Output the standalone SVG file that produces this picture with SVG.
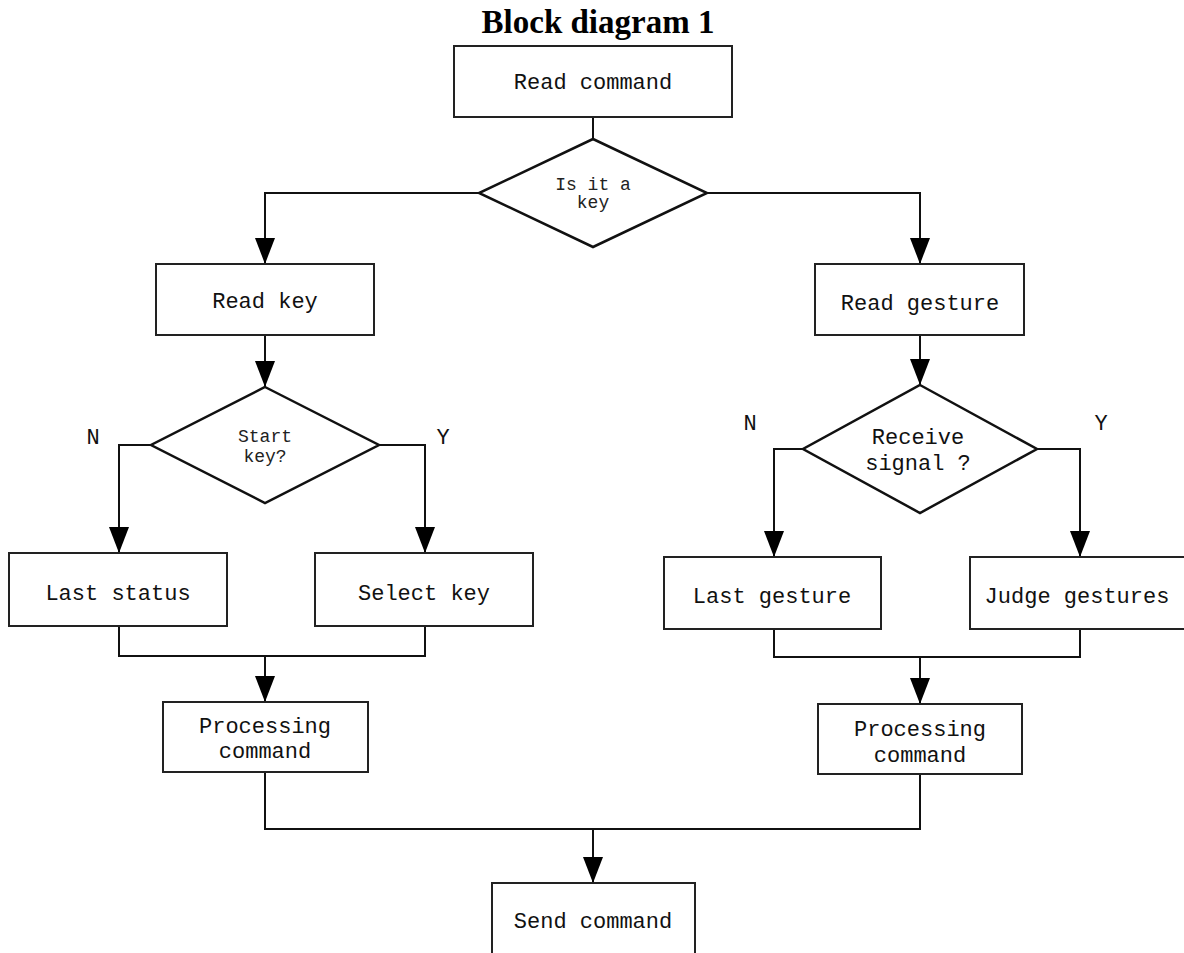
<svg xmlns="http://www.w3.org/2000/svg" width="1184" height="953" viewBox="0 0 1184 953">
<style>
.box{fill:#fff;stroke:#222;stroke-width:2}
.dia{fill:#fff;stroke:#111;stroke-width:2.5}
.t{font-family:"Liberation Mono","DejaVu Sans Mono",monospace;font-size:22px;fill:#111;text-anchor:middle}
.ts{font-family:"Liberation Mono","DejaVu Sans Mono",monospace;font-size:18px;fill:#222;text-anchor:middle}
.lbl{font-family:"Liberation Mono","DejaVu Sans Mono",monospace;font-size:22px;fill:#111;text-anchor:middle}
.c{fill:none;stroke:#111;stroke-width:2}
.title{font-family:"Liberation Serif","DejaVu Serif",serif;font-weight:bold;font-size:33px;fill:#000;text-anchor:middle}
</style>
<defs>
<marker id="arr" viewBox="0 0 26 20" refX="26" refY="10" markerWidth="26" markerHeight="20" markerUnits="userSpaceOnUse" orient="auto">
<path d="M0,0 L26,10 L0,20 z" fill="#000"/>
</marker>
</defs>
<rect width="1184" height="953" fill="#fff"/>
<text class="title" x="598" y="33">Block diagram 1</text>

<g id="connectors">
<path class="c" d="M593,117 V139"/>
<path class="c" d="M479,193 H265 V264" marker-end="url(#arr)"/>
<path class="c" d="M707,193 H920 V264" marker-end="url(#arr)"/>
<path class="c" d="M265,335 V387" marker-end="url(#arr)"/>
<path class="c" d="M920,335 V385" marker-end="url(#arr)"/>
<path class="c" d="M151,445 H119 V553" marker-end="url(#arr)"/>
<path class="c" d="M379,445 H425 V553" marker-end="url(#arr)"/>
<path class="c" d="M803,449 H774 V557" marker-end="url(#arr)"/>
<path class="c" d="M1037,449 H1080 V557" marker-end="url(#arr)"/>
<path class="c" d="M119,626 V656 H425 V626"/>
<path class="c" d="M265,656 V702" marker-end="url(#arr)"/>
<path class="c" d="M774,629 V657 H1080 V629"/>
<path class="c" d="M920,657 V704" marker-end="url(#arr)"/>
<path class="c" d="M265,772 V829 H920 V774"/>
<path class="c" d="M593,829 V883" marker-end="url(#arr)"/>
</g>

<g id="read-command">
<rect class="box" x="454" y="46" width="278" height="71"/>
<text class="t" x="593" y="89">Read command</text>
</g>
<g id="is-it-a-key">
<polygon class="dia" points="593,139 707,193 593,247 479,193"/>
<text class="ts" x="593" y="190">Is it a</text>
<text class="ts" x="593" y="208">key</text>
</g>
<g id="read-key">
<rect class="box" x="156" y="264" width="218" height="71"/>
<text class="t" x="265" y="308">Read key</text>
</g>
<g id="read-gesture">
<rect class="box" x="815" y="264" width="209" height="71"/>
<text class="t" x="920" y="310">Read gesture</text>
</g>
<g id="start-key">
<polygon class="dia" points="265,387 379,445 265,503 151,445"/>
<text class="ts" x="265" y="442">Start</text>
<text class="ts" x="265" y="462">key?</text>
</g>
<g id="receive-signal">
<polygon class="dia" points="920,385 1037,449 920,513 803,449"/>
<text class="t" x="918" y="444">Receive</text>
<text class="t" x="918" y="470">signal ?</text>
</g>
<g id="labels">
<text class="lbl" x="93" y="444">N</text>
<text class="lbl" x="443" y="444">Y</text>
<text class="lbl" x="750" y="430">N</text>
<text class="lbl" x="1101" y="430">Y</text>
</g>
<g id="last-status">
<rect class="box" x="9" y="553" width="218" height="73"/>
<text class="t" x="118" y="600">Last status</text>
</g>
<g id="select-key">
<rect class="box" x="315" y="553" width="218" height="73"/>
<text class="t" x="424" y="600">Select key</text>
</g>
<g id="last-gesture">
<rect class="box" x="664" y="557" width="217" height="72"/>
<text class="t" x="772" y="603">Last gesture</text>
</g>
<g id="judge-gestures">
<rect class="box" x="970" y="557" width="216" height="72"/>
<text class="t" x="1077" y="603">Judge gestures</text>
</g>
<g id="processing-left">
<rect class="box" x="163" y="702" width="205" height="70"/>
<text class="t" x="265" y="733">Processing</text>
<text class="t" x="265" y="758">command</text>
</g>
<g id="processing-right">
<rect class="box" x="818" y="704" width="204" height="70"/>
<text class="t" x="920" y="736">Processing</text>
<text class="t" x="920" y="762">command</text>
</g>
<g id="send-command">
<rect class="box" x="492" y="883" width="203" height="80"/>
<text class="t" x="593" y="928">Send command</text>
</g>
</svg>
